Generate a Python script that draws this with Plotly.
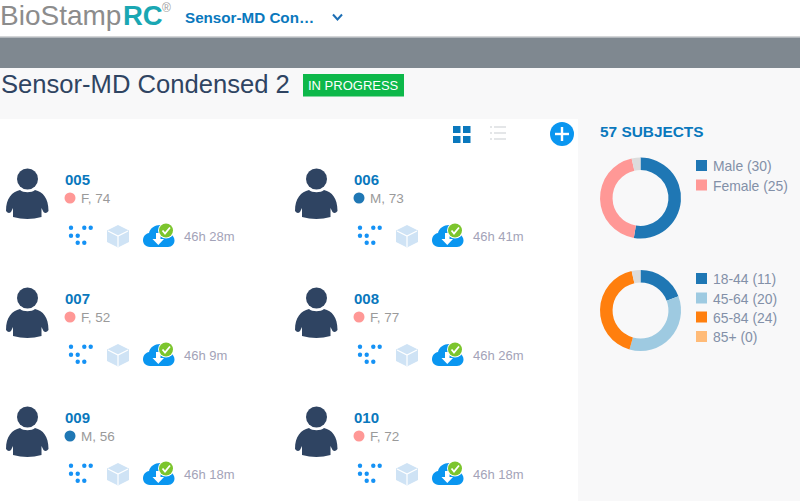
import plotly.graph_objects as go

# ---- data ----
gender_labels = ["Male", "Female", "Unknown"]
gender_values = [30, 25, 2]
gender_colors = ["#1f77b4", "#ff9896", "#dcdcdc"]
age_labels = ["18-44", "45-64", "65-84", "85+", "Unknown"]
age_values = [11, 20, 24, 0, 2]
age_colors = ["#1f77b4", "#9ecae1", "#ff7f0e", "#ffbb78", "#dcdcdc"]
subject_ids = ["005", "006", "007", "008", "009", "010"]
subject_sex = ["F", "M", "F", "F", "M", "F"]
subject_age = [74, 73, 52, 77, 56, 72]
subject_time = ["46h 28m", "46h 41m", "46h 9m", "46h 26m", "46h 18m", "46h 18m"]

W, H = 800, 501
BLUE = "#0a78bd"
NAVY = "#2f4462"
FONT = "Liberation Sans, Arial, sans-serif"
shapes, notes = [], []


def rect(x0, y0, x1, y1, color, layer="below"):
    shapes.append(dict(type="rect", x0=x0, y0=y0, x1=x1, y1=y1, fillcolor=color,
                       line_width=0, layer=layer, xref="x", yref="y"))


def circle(cx, cy, r, color, layer="above"):
    shapes.append(dict(type="circle", x0=cx - r, y0=cy - r, x1=cx + r, y1=cy + r,
                       fillcolor=color, line_width=0, layer=layer, xref="x", yref="y"))


def path(d, fill=None, line=None, width=0):
    s = dict(type="path", path=d, line_width=width, layer="above", xref="x", yref="y")
    if fill:
        s["fillcolor"] = fill
    if line:
        s["line_color"] = line
    shapes.append(s)


def text(x, y, s, size, color, bold=False, anchor="left", family=FONT):
    t = f"<b>{s}</b>" if bold else s
    notes.append(dict(x=x, y=y, text=t, xref="x", yref="y", xanchor=anchor, yanchor="middle",
                      showarrow=False, borderpad=0, borderwidth=0,
                      font=dict(size=size, color=color, family=family)))


# ---- page background ----
rect(0, 0, W, H, "#f8f8f9")
rect(0, 0, W, 36, "#ffffff")
rect(0, 36, W, 37.5, "#d4d6d8")
rect(0, 37.5, W, 68, "#7f8890")
rect(0, 119, 578, H, "#ffffff")

# ---- header ----
text(0, 15, "BioStamp", 28, "#8c8c8c")
text(123, 15, "<b>RC</b>", 27.5, "#1aa7b3")
text(162, 8, "®", 12, "#a0a0a0")
text(185, 17, "Sensor-MD Con…", 15.2, BLUE, bold=True)
path("M333,14.5 L337.5,19.5 L342,14.5", line="#1d6fb5", width=2)
text(1, 84, "Sensor-MD Condensed 2", 25.6, NAVY)
shapes.append(dict(type="rect", x0=303, y0=74, x1=404, y1=96.5, fillcolor="#0db84a",
                   line_width=0, layer="above", xref="x", yref="y"))
text(353.5, 85.5, "IN PROGRESS", 13, "#ffffff", anchor="center")

# ---- toolbar ----
for gx in (453, 463):
    for gy in (126, 136):
        rect(gx, gy, gx + 7.5, gy + 7, BLUE, layer="above")
for ly in (127, 133, 139):
    rect(490, ly - 1, 492, ly + 1, "#e4e6e8", layer="above")
    rect(494, ly - 1, 506, ly + 1, "#e4e6e8", layer="above")
circle(562, 134, 12, "#0a96f0")
rect(560.8, 127, 563.2, 141, "#ffffff", layer="above")
rect(555, 132.8, 569, 135.2, "#ffffff", layer="above")

# ---- subject cards ----
for i, sid in enumerate(subject_ids):
    dx = 289 * (i % 2)
    dy = 119 * (i // 2)

    def X(v):
        return v + dx

    def Y(v):
        return v + dy

    # person
    circle(X(27.5), Y(179), 10.5, NAVY)
    path(f"M{X(6)},{Y(211)} C{X(6)},{Y(198)} {X(12)},{Y(192)} {X(20)},{Y(190)} "
         f"C{X(23)},{Y(193)} {X(32)},{Y(193)} {X(35)},{Y(190)} "
         f"C{X(43)},{Y(192)} {X(48.5)},{Y(198)} {X(48.5)},{Y(211)} "
         f"Q{X(46)},{Y(214.5)} {X(43.5)},{Y(212)} L{X(41.5)},{Y(208)} L{X(41.5)},{Y(217)} "
         f"Q{X(27.5)},{Y(221)} {X(13)},{Y(217)} L{X(13)},{Y(208)} L{X(11)},{Y(212)} "
         f"Q{X(8.5)},{Y(214.5)} {X(6)},{Y(211)} Z", fill=NAVY)

    # id + demographics
    text(X(65), Y(179.5), sid, 15, BLUE, bold=True)
    circle(X(70), Y(198), 5.5, "#ff9896" if subject_sex[i] == "F" else "#1f77b4")
    text(X(81), Y(198.5), f"{subject_sex[i]}, {subject_age[i]}", 13.5, "#9a9a9a")

    # sensor dots
    for px, py in [(71, 227.7), (84.3, 227.7), (90.7, 227.7), (71, 235.7), (77.7, 235.7),
                   (77.7, 242.7), (84.3, 242.7)]:
        circle(X(px), Y(py), 2.2, "#1592f5")

    # cube
    path(f"M{X(118)},{Y(225)} L{X(129)},{Y(230.5)} L{X(129)},{Y(242)} L{X(118)},{Y(247.5)} "
         f"L{X(107)},{Y(242)} L{X(107)},{Y(230.5)} Z", fill="#cfe3f5")
    path(f"M{X(108)},{Y(231)} L{X(118)},{Y(236)} L{X(128)},{Y(231)} M{X(118)},{Y(236)} L{X(118)},{Y(247)}",
         line="#ffffff", width=1.2)

    # cloud
    path(f"M{X(150)},{Y(247)} C{X(145)},{Y(247)} {X(143)},{Y(243)} {X(143)},{Y(240.5)} "
         f"C{X(143)},{Y(236)} {X(146)},{Y(233.5)} {X(149)},{Y(233)} "
         f"C{X(150)},{Y(228)} {X(155)},{Y(225)} {X(160)},{Y(225)} "
         f"C{X(166)},{Y(225)} {X(170)},{Y(229)} {X(170)},{Y(234)} "
         f"C{X(173)},{Y(235)} {X(174.5)},{Y(238)} {X(174.5)},{Y(240.5)} "
         f"C{X(174.5)},{Y(244)} {X(172)},{Y(247)} {X(168)},{Y(247)} Z", fill="#0a96f0")
    path(f"M{X(156)},{Y(233)} L{X(160.5)},{Y(233)} L{X(160.5)},{Y(239)} L{X(164)},{Y(239)} "
         f"L{X(158.3)},{Y(245)} L{X(152.5)},{Y(239)} L{X(156)},{Y(239)} Z", fill="#ffffff")
    circle(X(166), Y(230.5), 8, "#ffffff")
    circle(X(166), Y(230.5), 7, "#7cc52d")
    path(f"M{X(162.5)},{Y(230.5)} L{X(165)},{Y(233.5)} L{X(170)},{Y(227.5)}", line="#ffffff", width=1.8)

    text(X(184), Y(236), subject_time[i], 13, "#a3a3b8")

# ---- subjects panel ----
text(600, 131, f"{sum(gender_values)} SUBJECTS", 15.4, BLUE, bold=True)


def legend(labels, values, colors, y_list):
    for lab, val, col, y in zip(labels, values, colors, y_list):
        rect(696, y - 5.5, 707, y + 5.5, col, layer="above")
        text(713, y + 0.5, f"{lab} ({val})", 13.9, "#8390a8")


legend(gender_labels[:2], gender_values[:2], gender_colors[:2], [165.5, 185])
legend(age_labels[:4], age_values[:4], age_colors[:4], [278.5, 298, 317, 336.5])


def donut(labels, values, colors, cx, cy, r):
    return go.Pie(labels=labels, values=values, hole=0.69, sort=False, direction="clockwise",
                  rotation=0, textinfo="none", showlegend=False,
                  marker=dict(colors=colors, line=dict(width=0)),
                  domain=dict(x=[(cx - r) / W, (cx + r) / W], y=[1 - (cy + r) / H, 1 - (cy - r) / H]))


fig = go.Figure()
fig.add_trace(go.Scatter(x=[], y=[], showlegend=False))
fig.add_trace(donut(gender_labels, gender_values, gender_colors, 640.5, 198, 40.5))
fig.add_trace(donut(age_labels, age_values, age_colors, 640.5, 310.5, 40.5))
fig.update_layout(
    width=W, height=H, margin=dict(l=0, r=0, t=0, b=0, pad=0),
    paper_bgcolor="#f8f8f9", plot_bgcolor="rgba(0,0,0,0)",
    xaxis=dict(range=[0, W], visible=False, fixedrange=True, domain=[0, 1]),
    yaxis=dict(range=[H, 0], visible=False, fixedrange=True, domain=[0, 1]),
    shapes=shapes, annotations=notes, showlegend=False,
)
fig.write_html("out.html", config=dict(displayModeBar=False),
               post_script="document.body.style.margin='0';document.body.style.overflow='hidden';")
